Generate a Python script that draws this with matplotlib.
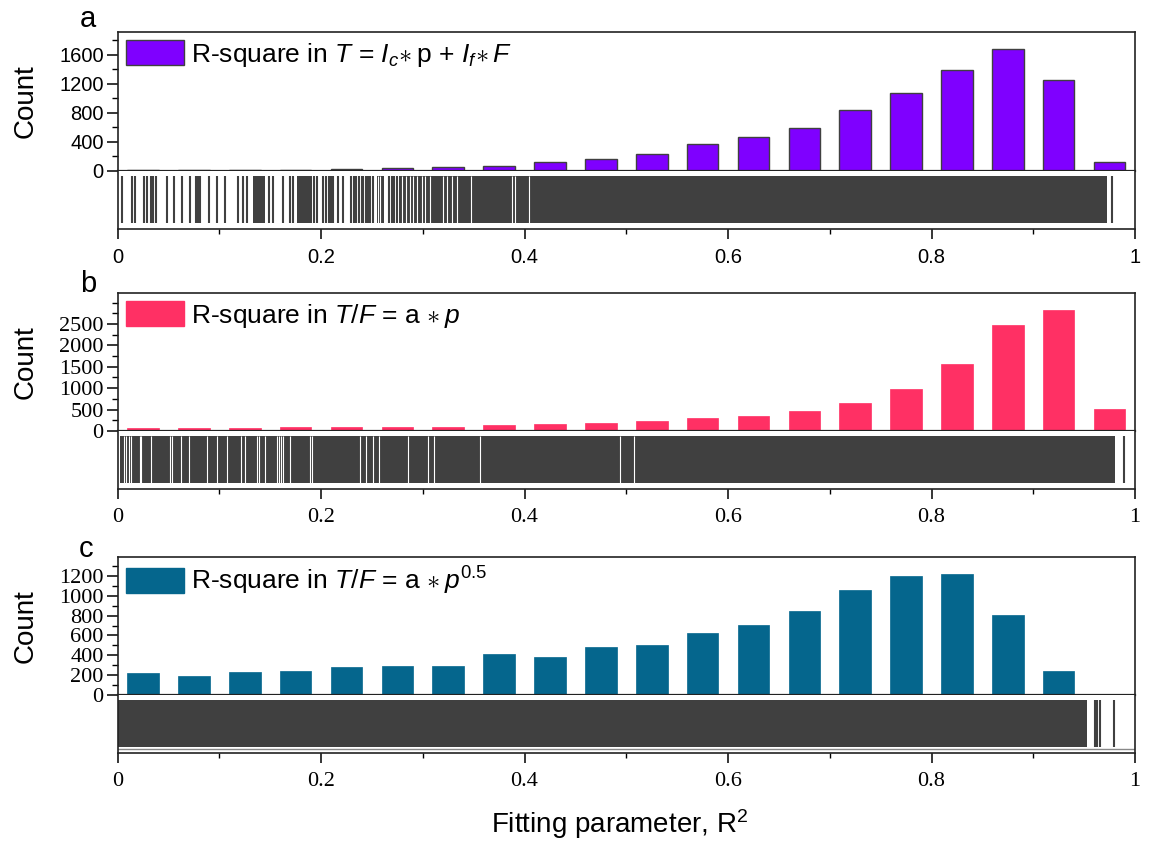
import matplotlib
matplotlib.use("Agg")
import matplotlib.pyplot as plt
from matplotlib.patches import Patch
from matplotlib.ticker import MultipleLocator, FixedLocator, FuncFormatter

plt.rcParams['font.family'] = ['Liberation Sans', 'DejaVu Sans']
plt.rcParams['mathtext.fontset'] = 'custom'
plt.rcParams['mathtext.rm'] = 'Liberation Sans'
plt.rcParams['mathtext.it'] = 'Liberation Sans:italic'
plt.rcParams['mathtext.bf'] = 'Liberation Sans:bold'

# histogram bins (R^2), 0.05 wide
bin_centers = [0.025, 0.075, 0.125, 0.175, 0.225, 0.275, 0.325, 0.375, 0.425, 0.475,
               0.525, 0.575, 0.625, 0.675, 0.725, 0.775, 0.825, 0.875, 0.925, 0.975]

counts_a = [8, 8, 10, 12, 25, 35, 50, 70, 125, 171, 240, 373, 475, 599, 848, 1079, 1397, 1678, 1249, 124]
counts_b = [65, 60, 60, 85, 105, 105, 105, 150, 170, 185, 225, 305, 360, 475, 650, 975, 1567, 2484, 2829, 514]
counts_c = [218, 195, 235, 242, 279, 292, 292, 413, 383, 481, 504, 629, 709, 850, 1062, 1200, 1217, 807, 242, 10]

# labelled y ticks per panel
yticks_a = [0, 400, 800, 1200, 1600]
yticks_b = [0, 500, 1000, 1500, 2000, 2500]
yticks_c = [0, 200, 400, 600, 800, 1000, 1200]

# rug: single values, dense runs (lo, hi) and empty gaps inside the runs
rug_lines_a = [0.0047, 0.0142, 0.0171, 0.0260, 0.0286, 0.0332, 0.0351, 0.0374, 0.0482, 0.0554,
               0.0630, 0.0712, 0.0771, 0.0790, 0.0810, 0.0895, 0.0980, 0.1056, 0.1187, 0.1230,
               0.1269, 0.1492, 0.1531, 0.1630, 0.1695, 0.1721, 0.1931, 0.1964, 0.2023, 0.2050,
               0.2075, 0.2095, 0.2115, 0.2164, 0.2220, 0.2292, 0.2325, 0.2344, 0.2377, 0.2400,
               0.2416, 0.2443, 0.2465, 0.2482, 0.2508, 0.2672, 0.2698, 0.2718, 0.2744, 0.9770]
rug_runs_a = [(0.1328, 0.1449), (0.1767, 0.1908), (0.2547, 0.2620), (0.2770, 0.9723)]
rug_gaps_a = [0.2564, 0.2580, 0.2793, 0.2836, 0.2875, 0.2908, 0.2947, 0.2990, 0.3023, 0.3071,
              0.3203, 0.3236, 0.3285, 0.3335, 0.3475, 0.3875, 0.3907, 0.4039]

rug_lines_b = [0.9887]
rug_runs_b = [(0.002, 0.9807)]
rug_gaps_b = [0.0063, 0.0080, 0.0115, 0.0132, 0.0220, 0.0232, 0.0332, 0.0515, 0.0535, 0.0620,
              0.0699, 0.0876, 0.0981, 0.1073, 0.1217, 0.1253, 0.1374, 0.1394, 0.1446, 0.1564,
              0.1584, 0.1603, 0.1623, 0.1695, 0.1892, 0.1911, 0.2385, 0.2439, 0.2512, 0.2573,
              0.2857, 0.3049, 0.3111, 0.3564, 0.4934, 0.5080]

rug_lines_c = [0.9606, 0.9631, 0.9657, 0.9796]
rug_runs_c = [(0.0, 0.953)]
rug_gaps_c = []

labels = [r"R-square in $T$ = $I_c\!\ast$p + $I_f\!\ast F$",
          r"R-square in $T$/$F$ = a$\,\ast p$",
          r"R-square in $T$/$F$ = a$\,\ast p^{\mathrm{0.5}}$"]
colors = ['#7F00FF', '#FF3064', '#05668D']
rug_color = '#404040'

W, H = 1154, 843
fig = plt.figure(figsize=(W / 100, H / 100), dpi=100)


def px_rect(top, bottom, left=117.6, right=1135):
    return [left / W, 1 - bottom / H, (right - left) / W, (bottom - top) / H]


def panel(hist_px, rug_px, counts, color, edge, label, ymax, yticks, yminor,
          runs, gaps, lines, tickfont, letter, letter_xy, bottom_rule=False):
    ax = fig.add_axes(px_rect(*hist_px))
    rax = fig.add_axes(px_rect(*rug_px), sharex=ax)

    ax.bar(bin_centers, counts, width=0.031, color=color,
           edgecolor=edge if edge else color, linewidth=1.0 if edge else 0.5)
    ax.set_xlim(0, 1)
    ax.set_ylim(0, ymax)
    ax.yaxis.set_major_locator(FixedLocator(yticks))
    ax.yaxis.set_minor_locator(MultipleLocator(yminor))
    ax.tick_params(axis='x', which='both', bottom=False, labelbottom=False)
    ax.tick_params(axis='y', which='major', direction='out', length=8, width=1.1,
                   labelsize=tickfont[1], pad=2)
    ax.tick_params(axis='y', which='minor', direction='out', length=4, width=1.0)
    for t in ax.get_yticklabels():
        t.set_family(tickfont[0])
    for s in ax.spines.values():
        s.set_linewidth(1.2)
        s.set_color('#222222')
    ax.spines['bottom'].set_linewidth(1.6)
    ax.set_ylabel("Count", fontsize=20)
    ax.yaxis.set_label_coords(-0.078, 0.5)

    ax.legend(handles=[Patch(facecolor=color, edgecolor=edge if edge else color, linewidth=1.0)],
              labels=[label], loc='upper left', frameon=False, fontsize=19,
              handlelength=2.2, handleheight=1.1, handletextpad=0.3,
              borderaxespad=0.1, borderpad=0.2)

    # rug strip
    for lo, hi in runs:
        rax.axvspan(lo, hi, ymin=0.1, ymax=0.91, color=rug_color, lw=0)
    if gaps:
        rax.vlines(gaps, 0.1, 0.91, color='white', lw=0.8)
    rax.vlines(lines, 0.1, 0.91, color=rug_color, lw=1.5)
    if bottom_rule:
        rax.axhline(0.07, color='#888888', lw=1.0)
    rax.set_ylim(0, 1)
    rax.set_yticks([])
    rax.spines['top'].set_visible(False)
    for s in ['left', 'right', 'bottom']:
        rax.spines[s].set_linewidth(1.2)
        rax.spines[s].set_color('#222222')
    rax.xaxis.set_major_locator(MultipleLocator(0.2))
    rax.xaxis.set_minor_locator(MultipleLocator(0.1))
    rax.xaxis.set_major_formatter(FuncFormatter(lambda v, p: "%g" % round(v, 2)))
    rax.tick_params(axis='x', which='major', direction='out', length=7, width=1.1,
                    labelsize=tickfont[1], pad=7)
    rax.tick_params(axis='x', which='minor', direction='out', length=3.5, width=1.0)
    for t in rax.get_xticklabels():
        t.set_family(tickfont[0])

    fig.text(letter_xy[0] / W, 1 - letter_xy[1] / H, letter, fontsize=21,
             ha='center', va='center')
    return ax, rax


panel((32, 171), (171, 229), counts_a, colors[0], '#404040', labels[0], 1917, yticks_a, 200,
      rug_runs_a, rug_gaps_a, rug_lines_a, ('Liberation Sans', 14.5), 'a', (88, 19))
panel((293, 431), (431, 489), counts_b, colors[1], None, labels[1], 3224, yticks_b, 250,
      rug_runs_b, rug_gaps_b, rug_lines_b, ('Liberation Serif', 16), 'b', (88, 284))
panel((557, 695), (695, 753), counts_c, colors[2], None, labels[2], 1391, yticks_c, 100,
      rug_runs_c, rug_gaps_c, rug_lines_c, ('Liberation Serif', 16), 'c', (86, 549),
      bottom_rule=True)

fig.text(620 / W, 1 - 824 / H, r"Fitting parameter, R$^2$", fontsize=20, ha='center', va='center')

fig.savefig("out.png", dpi=100)
